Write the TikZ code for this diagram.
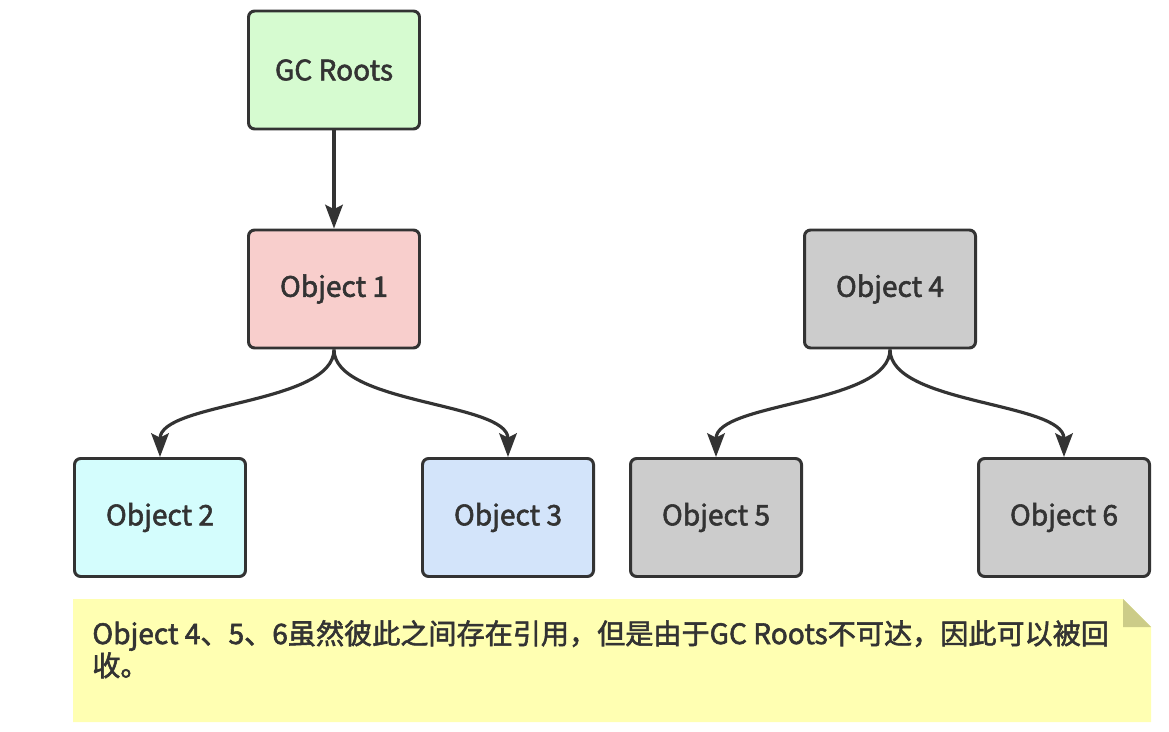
\documentclass[tikz,border=0pt]{standalone}
\usepackage{fontspec}
\setmainfont{Noto Sans CJK SC}[FakeBold=2]
\usetikzlibrary{arrows.meta}
\usetikzlibrary{positioning}
\definecolor{dgray}{RGB}{51, 51, 51}
\definecolor{mgreen}{RGB}{214, 251, 208}
\definecolor{mpink}{RGB}{248, 206, 204}
\definecolor{mcyan}{RGB}{212, 253, 253}
\definecolor{mblue}{RGB}{211, 228, 250}
\definecolor{mgray}{RGB}{204, 204, 204}
\definecolor{mnote}{RGB}{255, 255, 178}
\definecolor{mfold}{RGB}{204, 204, 136}

\begin{document}
\begin{tikzpicture}[
    obj/.style={draw=dgray, line width=1.7pt, rounded corners=3.5pt, minimum width=3.42cm, minimum height=2.36cm, text=dgray, font=\fontsize{16}{19}\selectfont},
    ref/.style={draw=dgray, line width=1.8pt, -{Stealth[length=13.5pt, width=10pt, inset=2.5pt]}}
  ]
  \useasboundingbox (0, 0) rectangle (23.38, -14.64);

  \node [obj, fill=mgreen] (roots) at (6.68, -1.40) {GC Roots};
  \node [obj, fill=mpink] (obj1) at (6.68, -5.78) {Object 1};
  \node [obj, fill=mgray] (obj4) at (17.80, -5.78) {Object 4};
  \node [obj, fill=mcyan] (obj2) at (3.20, -10.35) {Object 2};
  \node [obj, fill=mblue] (obj3) at (10.16, -10.35) {Object 3};
  \node [obj, fill=mgray] (obj5) at (14.32, -10.35) {Object 5};
  \node [obj, fill=mgray] (obj6) at (21.28, -10.35) {Object 6};

  \draw [ref] (roots) -- (obj1);
  \draw [ref] (obj1.south) .. controls +(0, -1.1) and +(0, 1.1) .. (obj2.north);
  \draw [ref] (obj1.south) .. controls +(0, -1.1) and +(0, 1.1) .. (obj3.north);
  \draw [ref] (obj4.south) .. controls +(0, -1.1) and +(0, 1.1) .. (obj5.north);
  \draw [ref] (obj4.south) .. controls +(0, -1.1) and +(0, 1.1) .. (obj6.north);

  \fill [mnote] (1.46, -11.98) -- (22.46, -11.98) -- (23.02, -12.54) -- (23.02, -14.44) -- (1.46, -14.44) -- cycle;
  \fill [mfold] (22.46, -11.98) -- (22.46, -12.54) -- (23.02, -12.54) -- cycle;
  \node [anchor=base west, align=left, inner sep=0, text=dgray, font=\fontsize{16}{18.2}\selectfont] (note) at (1.84, -13.52)
    {Object 4、5、6虽然彼此之间存在引用，但是由于GC Roots不可达，因此可以被回\\收。};
\end{tikzpicture}
\end{document}
